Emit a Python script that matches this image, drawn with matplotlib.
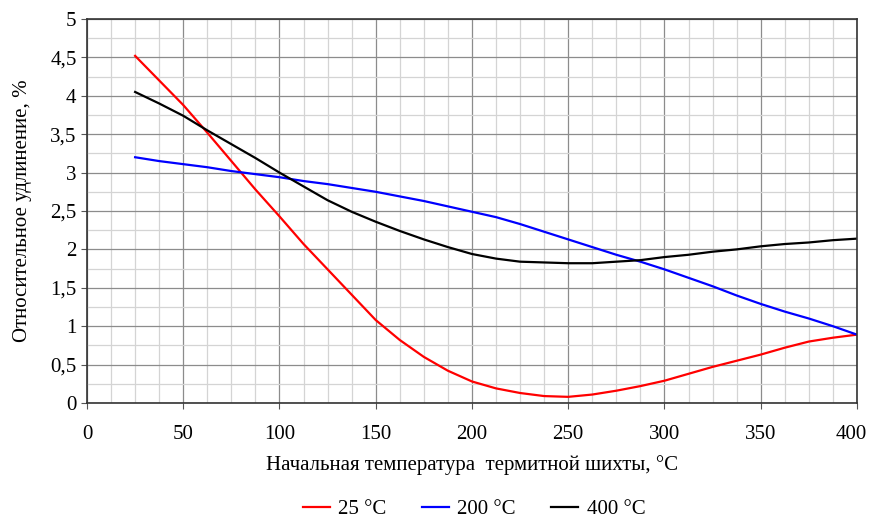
import numpy as np
import matplotlib
matplotlib.use("Agg")
import matplotlib.pyplot as plt
from matplotlib.ticker import MultipleLocator, FuncFormatter
from matplotlib.transforms import ScaledTranslation

# data
temp = [25, 37.5, 50, 62.5, 75, 87.5, 100, 112.5, 125, 137.5, 150, 162.5, 175, 187.5, 200,
        212.5, 225, 237.5, 250, 262.5, 275, 287.5, 300, 312.5, 325, 337.5, 350, 362.5, 375, 387.5, 400]
el_25 = [4.52, 4.20, 3.88, 3.52, 3.15, 2.78, 2.43, 2.07, 1.74, 1.41, 1.08, 0.82, 0.60, 0.42, 0.28,
         0.19, 0.13, 0.09, 0.08, 0.11, 0.16, 0.22, 0.29, 0.38, 0.47, 0.55, 0.63, 0.72, 0.80, 0.85, 0.89]
el_200 = [3.20, 3.15, 3.11, 3.07, 3.02, 2.98, 2.94, 2.89, 2.85, 2.80, 2.75, 2.69, 2.63, 2.56, 2.49,
          2.42, 2.33, 2.23, 2.13, 2.03, 1.93, 1.84, 1.74, 1.63, 1.52, 1.40, 1.29, 1.19, 1.10, 1.00, 0.89]
el_400 = [4.05, 3.90, 3.74, 3.55, 3.37, 3.19, 3.00, 2.82, 2.64, 2.49, 2.36, 2.24, 2.13, 2.03, 1.94,
          1.88, 1.84, 1.83, 1.82, 1.82, 1.84, 1.86, 1.90, 1.93, 1.97, 2.00, 2.04, 2.07, 2.09, 2.12, 2.14]
labels = ["25 °C", "200 °C", "400 °C"]
colors = ["#ff0000", "#0000ff", "#000000"]

plt.rcParams["font.family"] = ["Liberation Serif", "DejaVu Serif"]

fig = plt.figure(figsize=(8.7, 5.25), dpi=100)
ax = fig.add_axes([0.1, 0.2324, 0.885, 0.7314])

for y, lab, c in zip([el_25, el_200, el_400], labels, colors):
    ax.plot(temp, y, color=c, lw=1.6, label=lab)

ax.set_xlim(0, 400)
ax.set_ylim(0, 5)
ax.set_xticks(np.arange(0, 401, 50))
ax.xaxis.set_minor_locator(MultipleLocator(12.5))
ax.yaxis.set_major_locator(MultipleLocator(0.5))
ax.yaxis.set_minor_locator(MultipleLocator(0.25))
ax.yaxis.set_major_formatter(FuncFormatter(lambda v, p: ("%g" % v).replace(".", ",")))

ax.grid(which="major", color="#8c8c8c", lw=0.9)
ax.grid(which="minor", color="#d4d4d4", lw=0.9)
ax.set_axisbelow(True)
for s in ax.spines.values():
    s.set_color("#333333")
    s.set_linewidth(1.2)

ax.tick_params(which="major", direction="out", length=4, labelsize=15, color="#555555")
ax.tick_params(which="minor", length=0)
ax.tick_params(axis="x", pad=12)

# last x label is pulled left so it stays inside the picture
last = ax.get_xticklabels()[-1]
last.set_transform(last.get_transform() + ScaledTranslation(-6 / 100, 0, fig.dpi_scale_trans))

ax.set_xlabel("Начальная температура  термитной шихты, °C", fontsize=15, labelpad=8)
ax.set_ylabel("Относительное удлинение, %", fontsize=15, labelpad=13)

fig.legend(loc="center", bbox_to_anchor=(0.545, 0.03), ncol=3, frameon=False,
           fontsize=15, handlelength=1.3, columnspacing=1.7, handletextpad=0.4)

fig.savefig("out.png", dpi=100)
